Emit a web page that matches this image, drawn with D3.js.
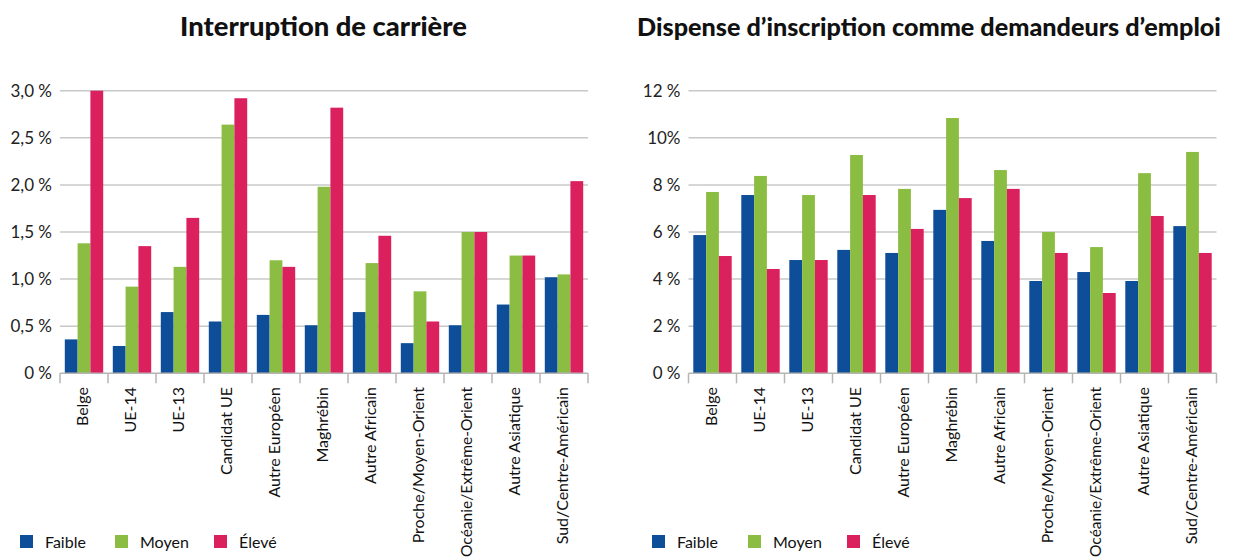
<!DOCTYPE html>
<html>
<head>
<meta charset="utf-8">
<script src="https://cdn.jsdelivr.net/npm/d3@7"></script>
<style>
  body { margin: 0; background: #fff; }
  svg { font-family: Lato, "Open Sans", sans-serif; }
  .title { font-weight: 900; fill: #111; }
  .ytick { font-size: 17px; fill: #222; }
  .cat { font-size: 16px; fill: #111; }
  .leg { font-size: 16px; fill: #111; }
</style>
</head>
<body>
<div id="chart"></div>
<script>
// categories and series
var categories = ["Belge", "UE-14", "UE-13", "Candidat UE", "Autre Européen", "Maghrébin",
  "Autre Africain", "Proche/Moyen-Orient", "Océanie/Extrême-Orient", "Autre Asiatique",
  "Sud/Centre-Américain"];
var seriesNames = ["Faible", "Moyen", "Élevé"];
var seriesColors = ["#0e4d97", "#8cbd43", "#da215d"];

// Interruption de carrière (%)
var interFaible = [0.36, 0.29, 0.65, 0.55, 0.62, 0.51, 0.65, 0.32, 0.51, 0.73, 1.02];
var interMoyen  = [1.38, 0.92, 1.13, 2.64, 1.20, 1.98, 1.17, 0.87, 1.50, 1.25, 1.05];
var interEleve  = [3.00, 1.35, 1.65, 2.92, 1.13, 2.82, 1.46, 0.55, 1.50, 1.25, 2.04];
var interTicks = [0, 0.5, 1, 1.5, 2, 2.5, 3];
var interTickLabels = ["0 %", "0,5 %", "1,0 %", "1,5 %", "2,0 %", "2,5 %", "3,0 %"];

// Dispense d'inscription (%)
var dispFaible = [5.87, 7.57, 4.81, 5.24, 5.11, 6.94, 5.62, 3.92, 4.30, 3.92, 6.25];
var dispMoyen  = [7.70, 8.38, 7.57, 9.27, 7.83, 10.84, 8.63, 6.00, 5.36, 8.50, 9.40];
var dispEleve  = [4.98, 4.43, 4.81, 7.57, 6.13, 7.44, 7.83, 5.11, 3.41, 6.68, 5.11];
var dispTicks = [0, 2, 4, 6, 8, 10, 12];
var dispTickLabels = ["0 %", "2 %", "4 %", "6 %", "8 %", "10%", "12 %"];

var svg = d3.select("#chart").append("svg")
  .attr("width", 1233)
  .attr("height", 560);

function drawPanel(opts) {
  var g = svg.append("g");
  var left = opts.left, right = opts.left + 528;
  var top = 90.7, bottom = 373.3;

  var x0 = d3.scaleBand().domain(categories).range([left, right])
    .paddingInner(0.2).paddingOuter(0.1);
  var x1 = d3.scaleBand().domain(seriesNames).range([0, x0.bandwidth()]);
  var y = d3.scaleLinear().domain([0, opts.max]).range([bottom, top]);

  // title, font size fitted to the wanted width
  var title = g.append("text").attr("class", "title")
    .attr("x", opts.titleX).attr("y", 36)
    .attr("text-anchor", "middle")
    .style("font-size", "26px")
    .text(opts.title);
  var w = title.node().getComputedTextLength();
  title.style("font-size", (26 * opts.titleW / w) + "px");

  // gridlines
  g.selectAll(".grid").data(opts.ticks.slice(1)).enter().append("line")
    .attr("x1", left).attr("x2", right)
    .attr("y1", d => y(d)).attr("y2", d => y(d))
    .attr("stroke", "#c8c8c8").attr("stroke-width", 1.5);

  // y tick labels
  g.selectAll(".ytick").data(opts.ticks).enter().append("text")
    .attr("class", "ytick")
    .attr("x", left - 8).attr("y", d => y(d))
    .attr("dy", "0.35em").attr("text-anchor", "end")
    .text((d, i) => opts.tickLabels[i]);

  // bars
  var rows = categories.map((c, i) => ({cat: c, vals: opts.series.map(s => s[i])}));
  var groups = g.selectAll(".grp").data(rows).enter().append("g")
    .attr("transform", d => `translate(${x0(d.cat)},0)`);
  groups.selectAll("rect").data(d => d.vals.map((v, k) => ({key: seriesNames[k], v: v, k: k})))
    .enter().append("rect")
    .attr("x", d => x1(d.key))
    .attr("width", x1.bandwidth())
    .attr("y", d => y(d.v))
    .attr("height", d => y(0) - y(d.v))
    .attr("fill", d => seriesColors[d.k]);

  // bottom axis with ticks at category boundaries
  g.append("line").attr("x1", left).attr("x2", right)
    .attr("y1", bottom).attr("y2", bottom)
    .attr("stroke", "#b5b5b5").attr("stroke-width", 1.5);
  var bounds = d3.range(categories.length + 1).map(i => left + i * x0.step());
  g.selectAll(".tk").data(bounds).enter().append("line")
    .attr("x1", d => d).attr("x2", d => d)
    .attr("y1", bottom).attr("y2", bottom + 10)
    .attr("stroke", "#b5b5b5").attr("stroke-width", 1.5);

  // category labels (squeeze the longest one so it stays inside the page)
  g.selectAll(".cat").data(categories).enter().append("text")
    .attr("class", "cat")
    .attr("transform", d => `translate(${x0(d) + x0.bandwidth() / 2 + 4},387) rotate(-90)`)
    .attr("text-anchor", "end")
    .text(d => d)
    .each(function() {
      var len = this.getComputedTextLength();
      if (len > 170) {
        d3.select(this).attr("textLength", 170).attr("lengthAdjust", "spacingAndGlyphs");
      }
    });

  // legend
  var leg = g.selectAll(".legi").data(seriesNames).enter().append("g")
    .attr("transform", (d, i) => `translate(${opts.legendX[i]},535)`);
  leg.append("rect").attr("width", 13).attr("height", 13)
    .attr("fill", (d, i) => seriesColors[i]);
  leg.append("text").attr("class", "leg")
    .attr("x", 25).attr("y", 13)
    .text(d => d);
}

drawPanel({
  left: 60, max: 3, title: "Interruption de carrière", titleX: 323.5, titleW: 287,
  series: [interFaible, interMoyen, interEleve],
  ticks: interTicks, tickLabels: interTickLabels,
  legendX: [20, 115, 214]
});

drawPanel({
  left: 688.5, max: 12, title: "Dispense d’inscription comme demandeurs d’emploi", titleX: 929, titleW: 584,
  series: [dispFaible, dispMoyen, dispEleve],
  ticks: dispTicks, tickLabels: dispTickLabels,
  legendX: [652, 748, 847]
});
</script>
</body>
</html>
